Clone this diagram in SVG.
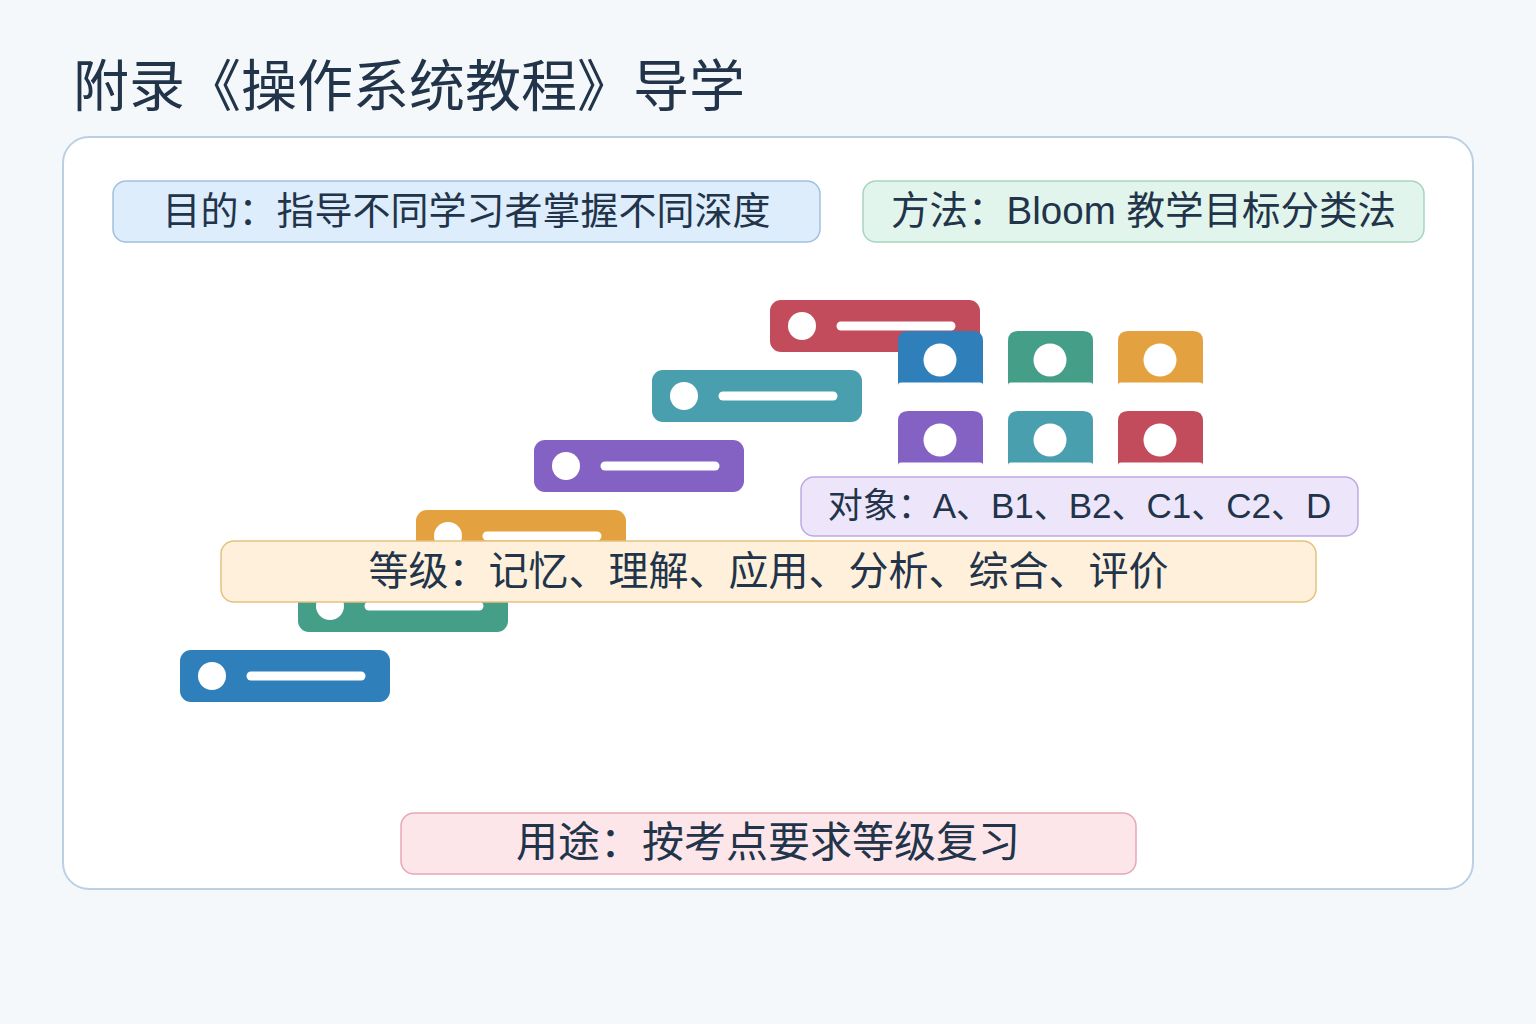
<svg xmlns="http://www.w3.org/2000/svg" width="1536" height="1024" viewBox="0 0 1536 1024">
<style>
.t{font-family:"Liberation Sans","Noto Sans CJK SC",sans-serif;fill:#22344a;text-anchor:middle;dominant-baseline:central}
</style>
<defs>
<g id="barShape">
<rect x="0" y="0" width="210" height="52" rx="11"/>
<circle cx="32" cy="26" r="14" fill="#fff"/>
<line x1="71" y1="26" x2="181" y2="26" stroke="#fff" stroke-width="9" stroke-linecap="round"/>
</g>
<g id="tileShape">
<path d="M0 10 Q0 0 10 0 H75 Q85 0 85 10 V54 H0 Z"/>
<circle cx="42" cy="29" r="16.5" fill="#fff"/>
<line x1="3" y1="54.5" x2="82" y2="54.5" stroke="#fff" stroke-width="6" stroke-linecap="round"/>
</g>
</defs>
<rect width="1536" height="1024" fill="#f4f8fa"/>
<text class="t" x="73" y="86" style="text-anchor:start;font-size:56px">附录《操作系统教程》导学</text>
<rect x="63" y="137" width="1410" height="752" rx="26" fill="#fff" stroke="#bcd0e3" stroke-width="2"/>
<g id="connectors"></g>
<g id="bar-red" fill="#c24c5b"><use href="#barShape" x="770" y="300"/></g>
<g id="bar-teal" fill="#4a9fae"><use href="#barShape" x="652" y="370"/></g>
<g id="bar-purple" fill="#8462c4"><use href="#barShape" x="534" y="440"/></g>
<g id="bar-orange" fill="#e3a23f"><use href="#barShape" x="416" y="510"/></g>
<g id="bar-green" fill="#459e87"><use href="#barShape" x="298" y="580"/></g>
<g id="bar-blue" fill="#2e7fba"><use href="#barShape" x="180" y="650"/></g>
<g id="tile-blue" fill="#2e7fba"><use href="#tileShape" x="898" y="331"/></g>
<g id="tile-green" fill="#459e87"><use href="#tileShape" x="1008" y="331"/></g>
<g id="tile-orange" fill="#e3a23f"><use href="#tileShape" x="1118" y="331"/></g>
<g id="tile-purple" fill="#8462c4"><use href="#tileShape" x="898" y="411"/></g>
<g id="tile-teal" fill="#4a9fae"><use href="#tileShape" x="1008" y="411"/></g>
<g id="tile-red" fill="#c24c5b"><use href="#tileShape" x="1118" y="411"/></g>
<g id="goal">
<rect x="113" y="181" width="707" height="61" rx="13" fill="#ddedfb" stroke="#9ec1e0" stroke-width="1.5"/>
<text class="t" x="466.5" y="210.5" style="font-size:38px">目的：指导不同学习者掌握不同深度</text>
</g>
<g id="method">
<rect x="863" y="181" width="561" height="61" rx="13" fill="#e2f5ed" stroke="#a6d5bf" stroke-width="1.5"/>
<text class="t" x="1143.5" y="210.5" style="font-size:38.5px">方法：Bloom 教学目标分类法</text>
</g>
<g id="audience">
<rect x="801" y="477" width="557" height="59" rx="13" fill="#ede6fa" stroke="#bea9e3" stroke-width="1.5"/>
<text class="t" x="1079.5" y="505.5" style="font-size:35px">对象：A、B1、B2、C1、C2、D</text>
</g>
<g id="levels">
<rect x="221" y="541" width="1095" height="61" rx="13" fill="#fff0db" stroke="#e6c17d" stroke-width="1.5"/>
<text class="t" x="768.5" y="570.5" style="font-size:40px">等级：记忆、理解、应用、分析、综合、评价</text>
</g>
<g id="usage">
<rect x="401" y="813" width="735" height="61" rx="13" fill="#fde6ea" stroke="#e7a8b5" stroke-width="1.5"/>
<text class="t" x="768" y="842.5" style="font-size:42px">用途：按考点要求等级复习</text>
</g>
</svg>
